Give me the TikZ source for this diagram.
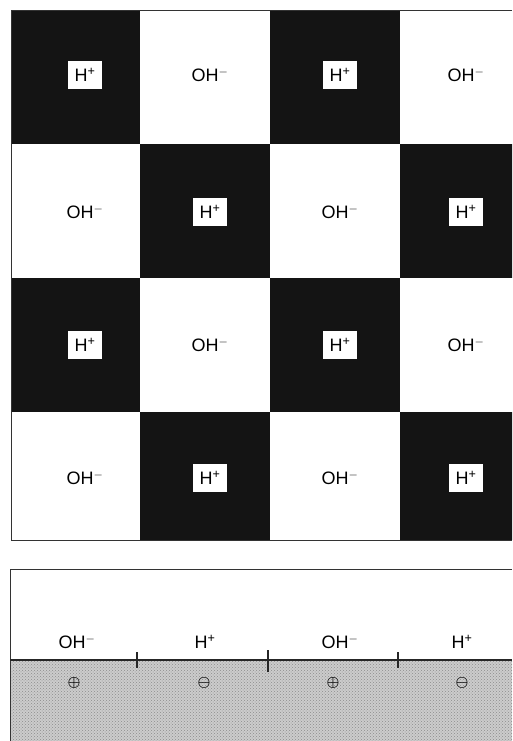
\documentclass[tikz,border=0pt]{standalone}
\usepackage{fontspec}
\setmainfont{Liberation Sans}
\usetikzlibrary{patterns}
\tikzset{
  dark/.style   = {fill=black!92},
  ion/.style    = {font=\fontsize{18}{18}\selectfont, inner sep=1pt},
  hbox/.style   = {ion, fill=white, inner sep=0pt, minimum width=34pt, minimum height=28pt},
  rim/.style    = {line width=0.9pt, black!80},
  surf/.style   = {line width=1.3pt, black!85},
  tick/.style   = {line width=1.2pt, black!85},
  charge/.style = {font=\fontsize{14}{14}\selectfont\boldmath, text=black, inner sep=0pt},
  ground/.style = {fill=black!20, postaction={pattern=crosshatch dots, pattern color=black!45}},
}

\begin{document}
\begin{tikzpicture}[x=1pt,y=-1pt]
  \clip (0,0) rectangle (512,741);
  \fill[white] (0,0) rectangle (512,741);

  % checkerboard of H+ and OH- domains
  \foreach \r/\ya/\yb/\ly in {1/10/144/75, 2/144/278/212, 3/278/412/345, 4/412/540/478}
    \foreach \c/\xa/\xb/\lx in {1/11/140/85, 2/140/270/210, 3/270/400/340, 4/400/530/466} {
      \pgfmathtruncatemacro\k{mod(\r+\c,2)}
      \ifnum\k=0
        \fill[dark] (\xa,\ya) rectangle (\xb,\yb);
        \node[hbox] (q-\r-\c) at (\lx,\ly) {H\textsuperscript{+}};
      \else
        \node[ion] (q-\r-\c) at (\lx,\ly) {OH$^{-}$};
      \fi
    }
  \draw[rim] (512,10) -- (11,10) -- (11,540) -- (512,540);

  % surface below
  \fill[ground] (10,660) rectangle (512,741);
  \draw[rim] (512,569) -- (10,569) -- (10,741);
  \draw[surf] (10,660) -- (512,660);
  \foreach \x/\a/\b in {137/652/668, 268/650/672, 398/652/668}
    \draw[tick] (\x,\a) -- (\x,\b);

  \node[ion] (s1) at (77,642)  {OH$^{-}$};
  \node[ion] (s2) at (205,642) {H\textsuperscript{+}};
  \node[ion] (s3) at (340,642) {OH$^{-}$};
  \node[ion] (s4) at (462,642) {H\textsuperscript{+}};

  \node[charge] (c1) at (74,683)  {$\oplus$};
  \node[charge] (c2) at (204,683) {$\ominus$};
  \node[charge] (c3) at (333,683) {$\oplus$};
  \node[charge] (c4) at (462,683) {$\ominus$};
\end{tikzpicture}
\end{document}
